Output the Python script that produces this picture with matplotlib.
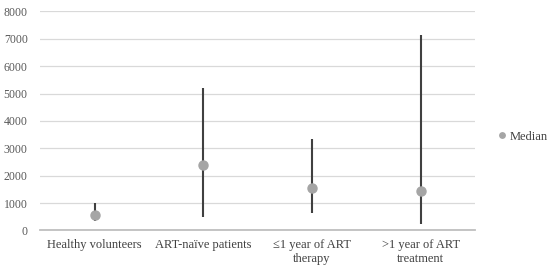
import numpy as np
import matplotlib.pyplot as plt

categories = ["Healthy volunteers", "ART-naïve patients", "≤1 year of ART\ntherapy", ">1 year of ART\ntreatment"]
median = [550, 2400, 1550, 1450]
low = [350, 500, 650, 250]
high = [1000, 5200, 3350, 7150]

plt.rcParams['font.family'] = ['Liberation Serif', 'DejaVu Serif']

fig = plt.figure(figsize=(5.5, 2.73), dpi=100)
ax = fig.add_axes([0.073, 0.156, 0.791, 0.802])

x = np.arange(len(categories))
ax.vlines(x, low, high, color="#404040", linewidth=1.5, zorder=3)
ax.plot(x, median, "o", color="#a5a5a5", markersize=6.5, label="Median", zorder=4)

ax.set_xlim(-0.5, len(categories) - 0.5)
ax.set_ylim(0, 8000)
ax.set_yticks(np.arange(0, 8001, 1000))
ax.set_xticks(x)
ax.set_xticklabels(categories, fontsize=9, color="#404040")
ax.tick_params(axis="y", labelsize=8.5, labelcolor="#595959", length=0, pad=9)
ax.tick_params(axis="x", length=0, pad=6)
ax.grid(axis="y", color="#d9d9d9", linewidth=0.9)
ax.set_axisbelow(True)
for s in ["top", "right", "left"]:
    ax.spines[s].set_visible(False)
ax.spines["bottom"].set_color("#bfbfbf")
ax.spines["bottom"].set_linewidth(1.3)

fig.legend(loc="center left", bbox_to_anchor=(0.907, 0.5), frameon=False,
           fontsize=9, handlelength=0.5, handletextpad=0.4, borderpad=0,
           borderaxespad=0, markerscale=0.6, labelcolor="#404040")

fig.savefig("out.png", dpi=100)
